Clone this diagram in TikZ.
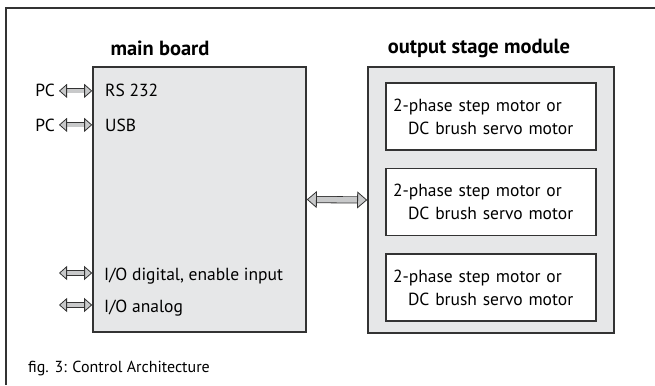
\documentclass[tikz,border=0pt]{standalone}
\usepackage{fontspec}
\setmainfont{PT Sans}
\usetikzlibrary{positioning,arrows.meta}
\definecolor{boardgray}{HTML}{E6E7E8}
\definecolor{busgray}{HTML}{C8C9CA}
\definecolor{linegray}{HTML}{333333}

\begin{document}
\begin{tikzpicture}[x=1pt,y=-1pt,
  font=\fontsize{17.5}{23}\selectfont,
  box/.style={draw=linegray, line width=1.6pt, fill=boardgray, inner sep=0pt},
  motor/.style={draw=linegray, line width=1.6pt, fill=white, minimum height=67pt,
    text width=196pt, inner xsep=7pt, align=left},
  title/.style={font=\fontsize{20.5}{24}\selectfont\bfseries},
  lbl/.style={anchor=base west, inner sep=0pt},
  bus/.style={draw=linegray, line width=0.8pt, double=busgray, double distance=3.6pt,
    {Triangle[length=8pt, width=14pt, fill=busgray, line width=0.8pt]}-{Triangle[length=8pt, width=14pt, fill=busgray, line width=0.8pt]}},
  bigbus/.style={bus, double distance=5.5pt,
    {Triangle[length=10pt, width=17pt, fill=busgray, line width=0.8pt]}-{Triangle[length=10pt, width=17pt, fill=busgray, line width=0.8pt]}}]
 \useasboundingbox (0,0) rectangle (655,385);
 \draw[linegray, line width=1.2pt] (655,8) -- (6,8) -- (6,385);

 % main board
 \node (board) [box, minimum width=213pt, minimum height=265pt] at (199.5,199.5) {};
 \node (boardtitle) [title] at (160,48) {main board};
 \node (rs)  [lbl] at (105,97)  {RS 232};
 \node (usb) [lbl] at (105,131) {USB};
 \node (dig) [lbl] at (104,280) {I/O digital, enable input};
 \node (ana) [lbl] at (104,312) {I/O analog};
 \node (pc1) [anchor=base east, inner sep=0pt] at (55,97)  {PC};
 \node (pc2) [anchor=base east, inner sep=0pt] at (55,131) {PC};
 \coordinate (digend) at (59,273);
 \coordinate (anaend) at (59,305);

 % output stage
 \node (stage) [box, minimum width=246pt, minimum height=266pt] at (491,200) {};
 \node (stagetitle) [title] at (479,48) {output stage module};
 \node (m1) [motor] at (491,116.5) {2-phase step motor or\\\hspace*{15pt}DC brush servo motor};
 \node (m2) [motor, below=17pt of m1] {2-phase step motor or\\\hspace*{15pt}DC brush servo motor};
 \node (m3) [motor, below=17pt of m2] {2-phase step motor or\\\hspace*{15pt}DC brush servo motor};

 \node (caption) [lbl, font=\fontsize{16}{18}\selectfont] at (28,372) {fig. 3: Control Architecture};

 \draw[bus] ([xshift=4pt]pc1.east) -- (pc1.east -| board.west);
 \draw[bus] ([xshift=4pt]pc2.east) -- (pc2.east -| board.west);
 \draw[bus] (digend) -- (digend -| board.west);
 \draw[bus] (anaend) -- (anaend -| board.west);
 \draw[bigbus] (board.east) -- (stage.west);
\end{tikzpicture}
\end{document}
